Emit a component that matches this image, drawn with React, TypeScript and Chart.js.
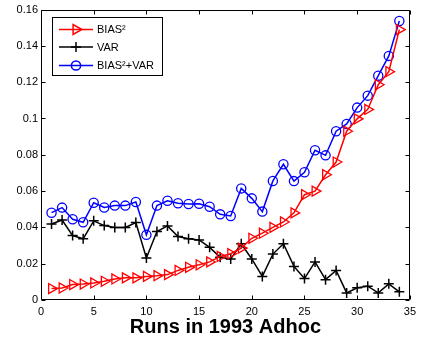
import React, { useEffect, useRef } from 'react';
import { Chart, registerables } from 'chart.js';

Chart.register(...registerables);

const runs = [1, 2, 3, 4, 5, 6, 7, 8, 9, 10, 11, 12, 13, 14, 15, 16, 17, 18, 19, 20, 21, 22, 23, 24, 25, 26, 27, 28, 29, 30, 31, 32, 33, 34];
const bias2 = [0.0063, 0.0066, 0.0085, 0.0088, 0.0094, 0.0103, 0.0116, 0.0122, 0.0122, 0.013, 0.0134, 0.014, 0.0163, 0.018, 0.0194, 0.021, 0.024, 0.0255, 0.0286, 0.034, 0.0368, 0.04, 0.043, 0.048, 0.058, 0.06, 0.069, 0.076, 0.093, 0.0998, 0.105, 0.1186, 0.1258, 0.149];
const variance = [0.0419, 0.0441, 0.0355, 0.0337, 0.0436, 0.041, 0.04, 0.04, 0.0427, 0.0231, 0.0377, 0.0408, 0.035, 0.0337, 0.0331, 0.029, 0.0235, 0.0226, 0.031, 0.0226, 0.013, 0.0253, 0.031, 0.0185, 0.0118, 0.021, 0.0112, 0.0163, 0.0039, 0.0067, 0.0076, 0.0039, 0.0089, 0.0045];
const total = [0.0481, 0.0509, 0.0445, 0.0428, 0.0536, 0.051, 0.052, 0.052, 0.054, 0.0359, 0.052, 0.0547, 0.0533, 0.0529, 0.053, 0.0514, 0.0472, 0.0463, 0.0615, 0.056, 0.0487, 0.0656, 0.0748, 0.0655, 0.0704, 0.0825, 0.0797, 0.093, 0.097, 0.106, 0.1126, 0.1236, 0.1345, 0.1537];
const xTicks = [0, 5, 10, 15, 20, 25, 30, 35];
const yTicks = [0, 0.02, 0.04, 0.06, 0.08, 0.1, 0.12, 0.14, 0.16];
const seriesLabels = ['BIAS²', 'VAR', 'BIAS²+VAR'];
const xTitle = 'Runs in 1993 Adhoc';

const FONT = "'Liberation Sans', Arial, Helvetica, sans-serif";

function drawMarker(ctx: CanvasRenderingContext2D, style: string, x: number, y: number, r: number) {
  ctx.beginPath();
  if (style === 'triangle') {
    ctx.moveTo(x + r, y);
    ctx.lineTo(x - r / 2, y - r * 0.866);
    ctx.lineTo(x - r / 2, y + r * 0.866);
    ctx.closePath();
  } else if (style === 'cross') {
    ctx.moveTo(x - r, y);
    ctx.lineTo(x + r, y);
    ctx.moveTo(x, y - r);
    ctx.lineTo(x, y + r);
  } else {
    ctx.arc(x, y, r, 0, Math.PI * 2);
  }
  ctx.stroke();
}

const framePlugin = {
  id: 'matlabFrame',
  afterDraw(chart: any) {
    const ctx: CanvasRenderingContext2D = chart.ctx;
    const { left, right, top, bottom } = chart.chartArea;
    const xs = chart.scales.x;
    const ys = chart.scales.y;
    ctx.save();
    ctx.strokeStyle = '#000';
    ctx.lineWidth = 1;
    const L = Math.round(left) + 0.5;
    const R = Math.round(right) - 0.5;
    const T = Math.round(top) + 0.5;
    const B = Math.round(bottom) - 0.5;
    ctx.beginPath();
    ctx.rect(L, T, R - L, B - T);
    ctx.stroke();
    const tl = 4;
    ctx.beginPath();
    xTicks.forEach((v) => {
      const px = Math.round(xs.getPixelForValue(v)) + 0.5;
      ctx.moveTo(px, B);
      ctx.lineTo(px, B - tl);
      ctx.moveTo(px, T);
      ctx.lineTo(px, T + tl);
    });
    yTicks.forEach((v) => {
      const py = Math.round(ys.getPixelForValue(v)) + 0.5;
      ctx.moveTo(L, py);
      ctx.lineTo(L + tl, py);
      ctx.moveTo(R, py);
      ctx.lineTo(R - tl, py);
    });
    ctx.stroke();

    // legend
    const bx = 52.5, by = 17.5, bw = 110, bh = 58;
    ctx.fillStyle = '#fff';
    ctx.fillRect(bx, by, bw, bh);
    ctx.strokeStyle = '#000';
    ctx.strokeRect(bx, by, bw, bh);
    const rowsY = [29.5, 47, 65.5];
    chart.data.datasets.forEach((ds: any, i: number) => {
      const y = rowsY[i];
      ctx.strokeStyle = ds.borderColor;
      ctx.lineWidth = 1.5;
      ctx.beginPath();
      ctx.moveTo(59, y);
      ctx.lineTo(93, y);
      ctx.stroke();
      drawMarker(ctx, ds.pointStyle, 76, y, ds.pointRadius);
      ctx.fillStyle = '#000';
      ctx.font = `11px ${FONT}`;
      ctx.textAlign = 'left';
      ctx.textBaseline = 'middle';
      ctx.fillText(ds.label, 97, y + 0.5);
    });
    ctx.restore();
  },
};

export default function App() {
  const ref = useRef<HTMLCanvasElement | null>(null);
  useEffect(() => {
    if (!ref.current) return;
    Chart.defaults.font.family = FONT;
    const mk = (vals: number[]) => runs.map((r, i) => ({ x: r, y: vals[i] }));
    const chart = new Chart(ref.current, {
      type: 'line',
      data: {
        datasets: [
          {
            label: seriesLabels[0],
            data: mk(bias2),
            borderColor: '#ff0000',
            backgroundColor: 'rgba(0,0,0,0)',
            borderWidth: 1.5,
            pointStyle: 'triangle',
            pointRotation: 90,
            pointRadius: 5.8,
            pointBorderWidth: 1.3,
            pointBorderColor: '#ff0000',
            pointBackgroundColor: 'rgba(0,0,0,0)',
          } as any,
          {
            label: seriesLabels[1],
            data: mk(variance),
            borderColor: '#000000',
            backgroundColor: 'rgba(0,0,0,0)',
            borderWidth: 1.5,
            pointStyle: 'cross',
            pointRadius: 5,
            pointBorderWidth: 1.5,
            pointBorderColor: '#000000',
          } as any,
          {
            label: seriesLabels[2],
            data: mk(total),
            borderColor: '#0000ff',
            backgroundColor: 'rgba(0,0,0,0)',
            borderWidth: 1.5,
            pointStyle: 'circle',
            pointRadius: 4.6,
            pointBorderWidth: 1.3,
            pointBorderColor: '#0000ff',
            pointBackgroundColor: 'rgba(0,0,0,0)',
          } as any,
        ],
      },
      options: {
        animation: false,
        responsive: false,
        devicePixelRatio: 1,
        layout: { padding: { top: 8, right: 8, left: 0, bottom: 0 } },
        plugins: { legend: { display: false }, tooltip: { enabled: false } },
        scales: {
          x: {
            type: 'linear',
            min: 0,
            max: 35,
            grid: { display: false, drawTicks: false, tickLength: 0 },
            border: { display: false },
            afterBuildTicks: (s: any) => {
              s.ticks = xTicks.map((v) => ({ value: v }));
            },
            afterFit: (s: any) => {
              s.height = 44;
            },
            ticks: {
              color: '#000',
              font: { size: 11 },
              padding: 5,
              maxRotation: 0,
              autoSkip: false,
              callback: (v: any) => String(v),
            },
            title: {
              display: true,
              text: xTitle,
              color: '#000',
              font: { size: 20, weight: 'bold' },
              padding: { top: 0, bottom: 5 },
            },
          },
          y: {
            type: 'linear',
            min: 0,
            max: 0.16,
            grid: { display: false, drawTicks: false, tickLength: 0 },
            border: { display: false },
            afterBuildTicks: (s: any) => {
              s.ticks = yTicks.map((v) => ({ value: v }));
            },
            afterFit: (s: any) => {
              s.width = 41;
            },
            ticks: {
              color: '#000',
              font: { size: 11 },
              padding: 3,
              autoSkip: false,
              callback: (v: any) => String(Number(Number(v).toFixed(2))),
            },
          },
        },
      },
      plugins: [framePlugin],
    });
    return () => chart.destroy();
  }, []);
  return (
    <div style={{ position: 'fixed', left: 0, top: 0, width: 421, height: 344, background: '#fff' }}>
      <canvas ref={ref} width={421} height={344} style={{ display: 'block', width: 421, height: 344 }} />
    </div>
  );
}
